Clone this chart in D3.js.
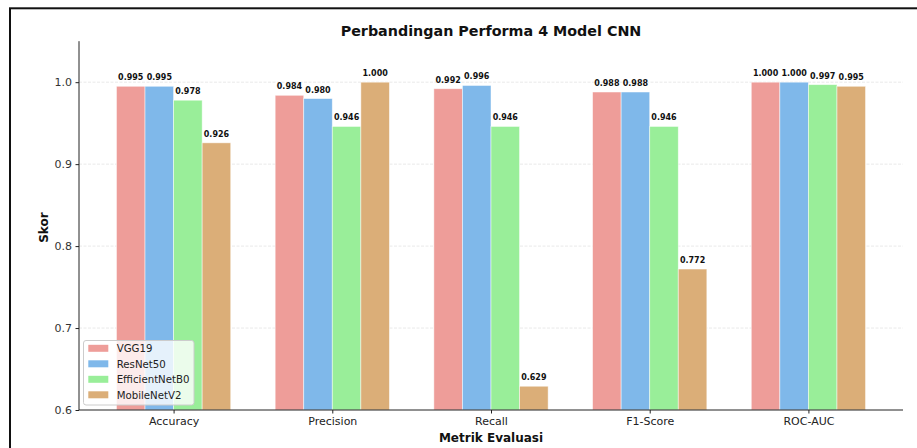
<!DOCTYPE html>
<html><head><meta charset="utf-8">
<script src="https://cdn.jsdelivr.net/npm/d3@7"></script>
<style>body{margin:0;background:#fff;} svg{display:block;font-family:"DejaVu Sans",sans-serif;}</style>
</head><body>
<script>
const categories = ["Accuracy", "Precision", "Recall", "F1-Score", "ROC-AUC"];
const models = ["VGG19", "ResNet50", "EfficientNetB0", "MobileNetV2"];
const vgg19 = [0.995, 0.984, 0.992, 0.988, 1.000];
const resnet50 = [0.995, 0.980, 0.996, 0.988, 1.000];
const efficientnetb0 = [0.978, 0.946, 0.946, 0.946, 0.997];
const mobilenetv2 = [0.926, 1.000, 0.629, 0.772, 0.995];
const yTicks = [0.6, 0.7, 0.8, 0.9, 1.0];
const colors = ["#EE9D99", "#7FB8EA", "#99EE99", "#DBAE78"];
const series = [vgg19, resnet50, efficientnetb0, mobilenetv2];

(function () {
const W = 917, H = 448;
const svg = d3.select("body").append("svg").attr("width", W).attr("height", H);

// frame
svg.append("rect").attr("x", 10).attr("y", 8.3).attr("width", 1000).attr("height", 1000)
  .attr("fill", "none").attr("stroke", "#111").attr("stroke-width", 2);

const pL = 79, pR = 903, pT = 41.2, pB = 410;
const barW = 0.18;
const x = d3.scaleLinear().domain([-0.596, 4.596]).range([pL, pR]);
const y = d3.scaleLinear().domain([0.6, 1.05]).range([pB, pT]);

// grid
svg.append("g").selectAll("line").data(yTicks.slice(1)).join("line")
  .attr("x1", pL).attr("x2", pR)
  .attr("y1", d => y(d)).attr("y2", d => y(d))
  .attr("stroke", "#b0b0b0").attr("stroke-opacity", 0.35)
  .attr("stroke-width", 0.8).attr("stroke-dasharray", "3,1.5");

// bars
series.forEach((vals, si) => {
  const off = (si - 1.5) * barW;
  const g = svg.append("g");
  g.selectAll("rect").data(vals).join("rect")
    .attr("x", (d, i) => x(i + off - barW / 2))
    .attr("width", x(barW) - x(0))
    .attr("y", d => y(d))
    .attr("height", d => y(0.6) - y(d))
    .attr("fill", colors[si])
    .attr("stroke", "#fff").attr("stroke-opacity", 0.6).attr("stroke-width", 0.8);
  g.selectAll("text").data(vals).join("text")
    .attr("x", (d, i) => x(i + off))
    .attr("y", d => y(d) - 6)
    .attr("text-anchor", "middle")
    .attr("font-size", 8).attr("font-weight", "bold").attr("fill", "#111")
    .text(d => d.toFixed(3));
});

// axes
const yAxis = d3.axisLeft(y).tickValues(yTicks).tickFormat(d3.format(".1f")).tickSize(3.5).tickPadding(3.5);
const gy = svg.append("g").attr("transform", `translate(${pL},0)`).call(yAxis);
gy.select(".domain").attr("d", `M0,${pT}V${pB}`).attr("stroke", "#222").attr("stroke-width", 1);
gy.selectAll(".tick line").attr("stroke", "#222");
gy.selectAll(".tick text").attr("font-size", 11).attr("fill", "#333").attr("font-family", "DejaVu Sans");

const xAxis = d3.axisBottom(x).tickValues(d3.range(categories.length)).tickFormat(i => categories[i]).tickSize(3.5).tickPadding(3.5);
const gx = svg.append("g").attr("transform", `translate(0,${pB})`).call(xAxis);
gx.select(".domain").attr("d", `M${pL},0H${pR}`).attr("stroke", "#222").attr("stroke-width", 1);
gx.selectAll(".tick line").attr("stroke", "#222");
gx.selectAll(".tick text").attr("font-size", 11).attr("fill", "#222").attr("font-family", "DejaVu Sans");

// titles
svg.append("text").attr("x", (pL + pR) / 2).attr("y", 36).attr("text-anchor", "middle")
  .attr("font-size", 14.3).attr("font-weight", "bold").attr("fill", "#111")
  .text("Perbandingan Performa 4 Model CNN");
svg.append("text").attr("x", (pL + pR) / 2).attr("y", 442).attr("text-anchor", "middle")
  .attr("font-size", 12).attr("font-weight", "bold").attr("fill", "#111")
  .text("Metrik Evaluasi");
svg.append("text").attr("transform", `translate(47.5,${(pT + pB) / 2 + 2}) rotate(-90)`).attr("text-anchor", "middle")
  .attr("font-size", 12).attr("font-weight", "bold").attr("fill", "#111")
  .text("Skor");

// legend
const lg = svg.append("g");
lg.append("rect").attr("x", 83.5).attr("y", 340.5).attr("width", 110.5).attr("height", 64.5)
  .attr("rx", 2.5).attr("fill", "#fff").attr("fill-opacity", 0.8)
  .attr("stroke", "#cccccc").attr("stroke-width", 1);
models.forEach((m, i) => {
  const cy = 348.3 + i * 15.5;
  lg.append("rect").attr("x", 88.3).attr("y", cy - 3.5).attr("width", 20).attr("height", 7).attr("fill", colors[i]);
  lg.append("text").attr("x", 116.7).attr("y", cy + 3.7).attr("font-size", 10.2).attr("fill", "#222").text(m);
});
})();
</script>
</body></html>
